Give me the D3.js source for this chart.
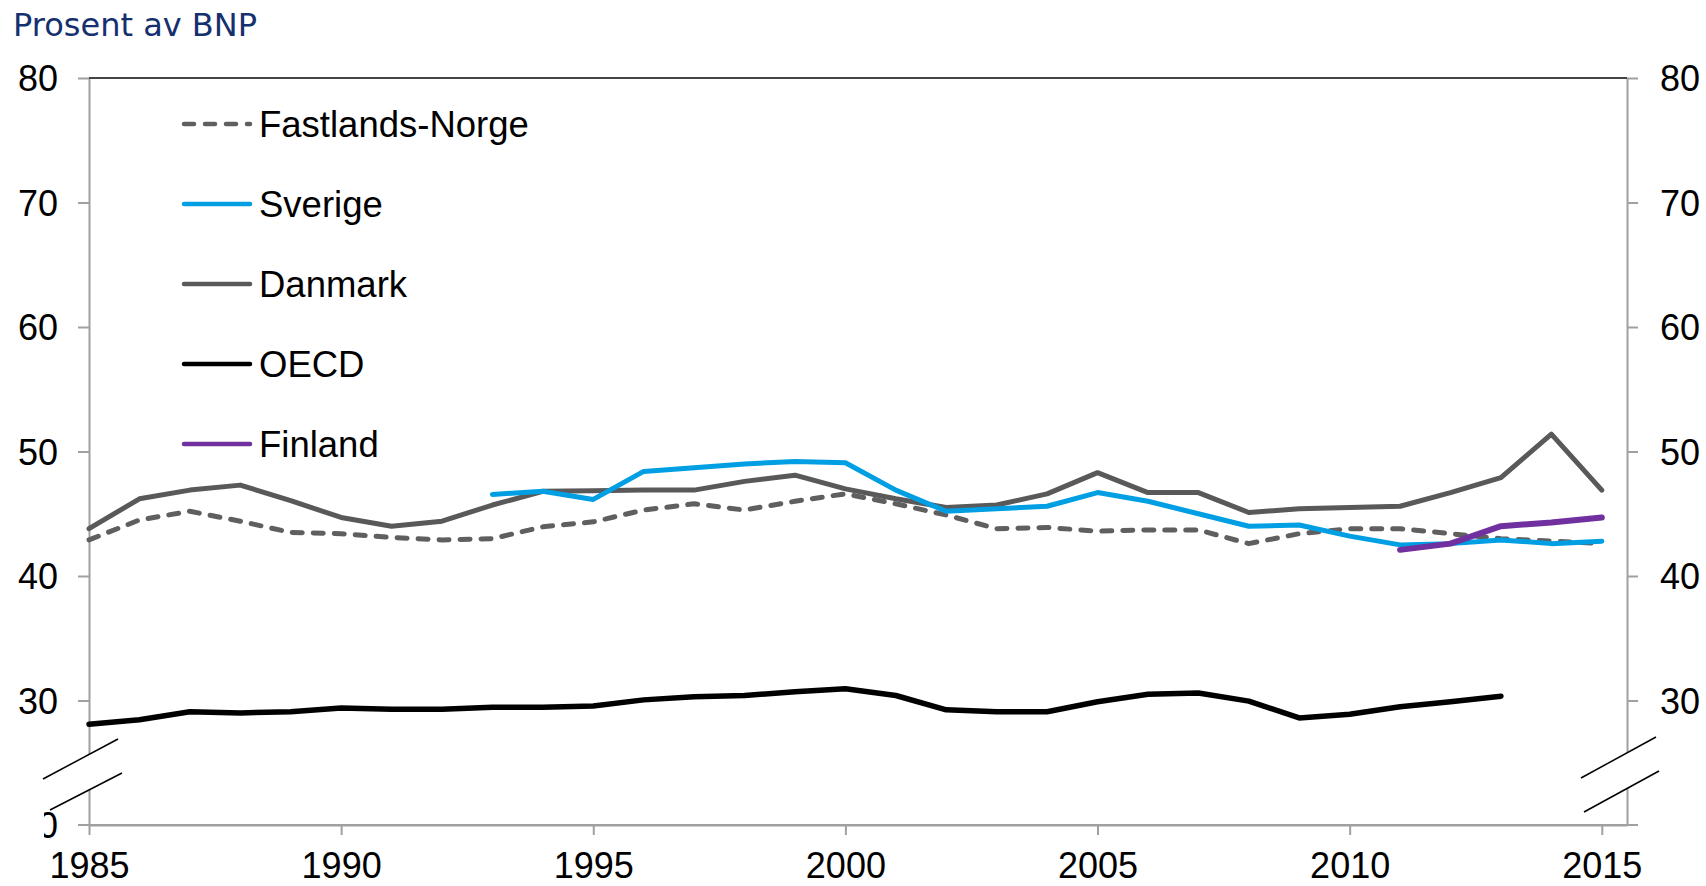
<!DOCTYPE html>
<html>
<head>
<meta charset="utf-8">
<script src="https://cdn.jsdelivr.net/npm/d3@7"></script>
<style>
	body {
		margin: 0;
		background: #fff;
	}
	text {
		font-family: "Liberation Sans", Arial, sans-serif;
	}
</style>
</head>
<body>
<svg width="1706" height="886"></svg>
<script>
const years = [
	1985, 1986, 1987, 1988, 1989, 1990, 1991, 1992, 1993, 1994, 1995, 1996, 1997, 1998, 1999, 2000,
	2001, 2002, 2003, 2004, 2005, 2006, 2007, 2008, 2009, 2010, 2011, 2012, 2013, 2014, 2015,
]

// prosent av BNP, null = ingen data
const fastlandsNorge = [
	42.9, 44.5, 45.2, 44.4, 43.5, 43.4, 43.1, 42.9, 43.0, 43.95, 44.35, 45.3, 45.8, 45.3, 46.0, 46.6,
	45.8, 44.9, 43.8, 43.9, 43.6, 43.7, 43.7, 42.6, 43.4, 43.8, 43.8, 43.4, 43.0, 42.8, 42.6,
]
const sverige = [
	null, null, null, null, null, null, null, null, 46.55, 46.8, 46.15, 48.4, 48.7, 49.0, 49.2, 49.1,
	46.9, 45.2, 45.4, 45.6, 46.7, 46.0, 45.0, 44.0, 44.1, 43.2, 42.5, 42.6, 42.9, 42.6, 42.8,
]
const danmark = [
	43.8, 46.2, 46.9, 47.3, 46.05, 44.7, 44.0, 44.4, 45.7, 46.8, 46.85, 46.9, 46.9, 47.6, 48.1, 47.0,
	46.2, 45.5, 45.7, 46.6, 48.3, 46.7, 46.7, 45.1, 45.4, 45.5, 45.6, 46.7, 47.9, 51.4, 46.9,
]
const oecd = [
	28.1, 28.45, 29.1, 29.0, 29.1, 29.4, 29.3, 29.3, 29.45, 29.45, 29.55, 30.05, 30.3, 30.4, 30.7, 30.95,
	30.4, 29.25, 29.1, 29.1, 29.9, 30.5, 30.6, 29.95, 28.6, 28.9, 29.5, 29.9, 30.35, null, null,
]
const finland = [
	null, null, null, null, null, null, null, null, null, null, null, null, null, null, null, null,
	null, null, null, null, null, null, null, null, null, null, 42.1, 42.6, 44.0, 44.3, 44.7,
]

const yTicks = [30, 40, 50, 60, 70, 80]
const xTicks = [1985, 1990, 1995, 2000, 2005, 2010, 2015]

const series = [
	{ name: "Danmark", values: danmark, color: "#595959", width: 5, dash: null },
	{ name: "Fastlands-Norge", values: fastlandsNorge, color: "#5f5f5f", width: 5, dash: "10,11" },
	{ name: "Sverige", values: sverige, color: "#009fe3", width: 5, dash: null },
	{ name: "OECD", values: oecd, color: "#000", width: 5.5, dash: null },
	{ name: "Finland", values: finland, color: "#7030a0", width: 6, dash: null },
]
const legendOrder = ["Fastlands-Norge", "Sverige", "Danmark", "OECD", "Finland"]

var svg = d3.select("svg")
var plotLeft = 89,
	plotRight = 1627,
	plotTop = 78,
	plotBottom = 825

var x = d3.scaleLinear().domain([1985, 2015.5]).range([plotLeft, plotRight])
var y = d3.scaleLinear().domain([20, 80]).range([plotBottom, plotTop])

const axisColor = "#a0a0a0"

// tittel
svg
	.append("text")
	.attr("x", 13)
	.attr("y", 36)
	.style("font-family", "'DejaVu Sans', Verdana, sans-serif")
	.style("font-size", "32px")
	.style("fill", "#14306e")
	.text("Prosent av BNP")

// venstre og høyre akse
const yAxisL = d3
	.axisLeft(y)
	.tickValues(yTicks)
	.tickSize(11)
	.tickPadding(20)
	.tickSizeOuter(0)
const yAxisR = d3
	.axisRight(y)
	.tickValues(yTicks)
	.tickSize(11)
	.tickPadding(22)
	.tickSizeOuter(0)

function styleAxis(g) {
	g.select(".domain").attr("stroke", axisColor).attr("stroke-width", 2)
	g.selectAll(".tick line").attr("stroke", axisColor).attr("stroke-width", 2)
	g.selectAll(".tick text")
		.attr("fill", "#000")
		.style("font-size", "36px")
		.style("font-family", "'Liberation Sans', Arial, sans-serif")
}

svg
	.append("g")
	.attr("transform", `translate(${plotLeft},0)`)
	.call(yAxisL)
	.call(styleAxis)
	.selectAll(".tick text")
	.attr("dy", "0.36em")

svg
	.append("g")
	.attr("transform", `translate(${plotRight},0)`)
	.call(yAxisR)
	.call(styleAxis)
	.selectAll(".tick text")
	.attr("dy", "0.36em")

// x-akse
const xAxis = d3
	.axisBottom(x)
	.tickValues(xTicks)
	.tickFormat(d3.format("d"))
	.tickSize(10)
	.tickPadding(17)
	.tickSizeOuter(0)

svg
	.append("g")
	.attr("transform", `translate(0,${plotBottom})`)
	.call(xAxis)
	.call(styleAxis)

// grunnlinje med stubber på begge sider
svg
	.append("line")
	.attr("x1", plotLeft - 11)
	.attr("x2", plotRight + 11)
	.attr("y1", plotBottom)
	.attr("y2", plotBottom)
	.attr("stroke", axisColor)
	.attr("stroke-width", 2)

// toppkant
svg
	.append("line")
	.attr("x1", plotLeft)
	.attr("x2", plotRight)
	.attr("y1", y(80))
	.attr("y2", y(80))
	.attr("stroke", "#444")
	.attr("stroke-width", 2)

// "0" nederst, delvis skjult av bruddet
svg
	.append("defs")
	.append("clipPath")
	.attr("id", "zeroclip")
	.append("rect")
	.attr("x", 44)
	.attr("y", plotBottom - 30)
	.attr("width", 40)
	.attr("height", 60)

svg
	.append("text")
	.attr("x", plotLeft - 31)
	.attr("y", plotBottom)
	.attr("dy", "0.36em")
	.attr("text-anchor", "end")
	.attr("clip-path", "url(#zeroclip)")
	.style("font-size", "36px")
	.text("0")

// linjer
var line = d3
	.line()
	.defined((d) => d[1] != null)
	.x((d) => x(d[0]))
	.y((d) => y(d[1]))

svg
	.selectAll(".serie")
	.data(series)
	.enter()
	.append("path")
	.attr("class", "serie")
	.attr("d", (s) => line(years.map((yr, i) => [yr, s.values[i]])))
	.attr("fill", "none")
	.attr("stroke", (s) => s.color)
	.attr("stroke-width", (s) => s.width)
	.attr("stroke-dasharray", (s) => s.dash)
	.attr("stroke-linejoin", "round")
	.attr("stroke-linecap", "round")

// aksebrudd
const breaks = [
	[
		[43, 779],
		[118, 739],
		[122, 773],
		[50, 810],
	],
	[
		[1581, 778],
		[1656, 737],
		[1659, 771],
		[1584, 812],
	],
]
breaks.forEach((b) => {
	svg
		.append("polygon")
		.attr("points", b.map((p) => p.join(",")).join(" "))
		.attr("fill", "#fff")
	svg
		.append("line")
		.attr("x1", b[0][0])
		.attr("y1", b[0][1])
		.attr("x2", b[1][0])
		.attr("y2", b[1][1])
		.attr("stroke", "#000")
		.attr("stroke-width", 1.5)
	svg
		.append("line")
		.attr("x1", b[3][0])
		.attr("y1", b[3][1])
		.attr("x2", b[2][0])
		.attr("y2", b[2][1])
		.attr("stroke", "#000")
		.attr("stroke-width", 1.5)
})

// tegnforklaring
var legend = svg
	.selectAll(".legend")
	.data(legendOrder.map((n) => series.find((s) => s.name === n)))
	.enter()
	.append("g")
	.attr("class", "legend")
	.attr("transform", (d, i) => `translate(184, ${124 + i * 80})`)

legend
	.append("line")
	.attr("x1", 0)
	.attr("x2", 66)
	.attr("stroke", (d) => d.color)
	.attr("stroke-width", 4.5)
	.attr("stroke-linecap", "round")
	.attr("stroke-dasharray", (d) => d.dash)

legend
	.append("text")
	.attr("x", 75)
	.attr("dy", "0.35em")
	.style("font-size", "36.5px")
	.text((d) => d.name)
</script>
</body>
</html>
